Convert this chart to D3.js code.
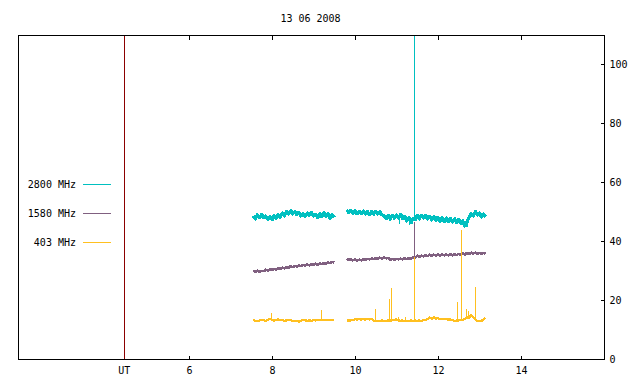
<!DOCTYPE html>
<html>
<head>
<meta charset="utf-8">
<script src="https://cdn.jsdelivr.net/npm/d3@7"></script>
<style>
  html, body { margin: 0; padding: 0; background: #ffffff; }
  svg { display: block; }
  text { font-family: "DejaVu Sans Mono", monospace; font-size: 10px; fill: #000; }
</style>
</head>
<body>
<svg id="chart" width="640" height="384"></svg>
<script>
// ---------------- DATA ----------------
const title = "13 06 2008";
const seriesNames = ["2800 MHz", "1580 MHz", "403 MHz"];
const xTickValues = [6, 8, 10, 12, 14];
const utMark = 4.43;               // UT marker (hours)
const yTickValues = [0, 20, 40, 60, 80, 100];

// sampling cadence (hours) and segment start times
const sampleStep = 0.05;
const startA = 7.55;   // first observing segment
const startB = 9.80;   // second observing segment

// 2800 MHz
const cyanA = [48.6,47.6,48.9,48.1,49.0,48.0,48.5,47.4,48.3,47.5,
               48.6,47.9,48.9,48.2,49.5,48.6,50.1,49.2,50.3,49.3,
               50.0,49.0,49.8,48.6,49.4,48.4,49.5,48.8,49.7,48.6,
               49.1,48.0,49.3,48.4,49.6,48.5,49.2,47.7,49.0,48.0];
const cyanB = [50.6,49.7,50.4,49.5,50.2,49.3,50.1,49.4,50.2,49.3,
               50.0,49.1,50.0,49.2,50.1,49.3,49.9,49.0,
               48.6,47.6,48.7,47.5,48.8,47.8,48.9,47.9,49.1,47.7,
               48.4,46.9,47.9,46.4,47.8,47.3,
               48.7,47.6,48.8,47.9,48.7,47.6,48.4,47.2,48.3,47.0,
               48.1,46.8,47.9,46.7,47.8,46.6,
               47.7,46.5,47.6,46.4,47.4,46.1,46.8,45.2,46.6,48.1,
               49.3,48.6,50.0,48.9,49.5,48.3,49.2,48.4];
// 1580 MHz
const purpleA = [30.1,29.6,30.0,29.5,29.9,29.8,30.3,30.0,30.5,30.2,
                 30.6,30.4,30.9,30.6,31.0,30.8,31.2,31.0,31.5,31.2,
                 31.6,31.4,31.7,31.5,32.0,31.7,32.1,31.8,32.2,32.0,
                 32.4,32.0,32.5,32.2,32.6,32.4,32.8,32.5,33.0,32.7];
const purpleB = [34.0,33.6,33.9,33.5,33.8,33.4,33.7,33.5,33.9,33.6,
                 34.0,33.8,34.1,33.9,34.3,34.0,34.4,34.1,
                 34.4,34.2,34.3,33.7,34.0,33.6,34.0,33.8,34.1,33.8,
                 34.2,33.9,34.3,34.0,34.5,34.4,
                 35.1,34.7,35.1,34.8,35.2,34.9,35.4,35.0,35.4,35.1,
                 35.5,35.1,35.5,35.2,35.5,35.2,
                 35.6,35.2,35.6,35.3,35.7,35.4,35.8,35.5,36.0,35.7,
                 36.1,35.8,36.1,35.8,36.0,35.8,36.0,35.8];
// 403 MHz
const yellowA = [13.2,13.0,12.8,13.1,13.2,13.1,13.0,13.2,13.6,13.3,
                 13.0,13.2,13.5,13.1,13.2,13.0,13.1,13.2,13.1,12.9,
                 12.9,13.0,12.7,13.0,13.3,13.1,13.0,13.1,13.0,13.2,
                 13.1,13.2,13.1,13.2,13.2,13.1,13.2,13.1,13.2,13.2];
const yellowB = [13.1,13.1,13.1,13.2,13.5,13.4,13.5,13.4,13.5,13.4,
                 13.6,13.4,13.5,13.1,12.8,12.8,12.9,13.1,
                 12.8,12.9,13.1,13.1,13.1,13.2,13.5,13.1,13.0,13.1,
                 12.8,12.9,12.8,13.1,13.0,13.1,
                 12.9,13.1,12.8,13.2,13.3,13.6,14.1,13.6,14.2,13.7,
                 13.9,13.5,13.6,13.5,13.5,13.4,
                 13.4,13.3,12.9,13.1,13.1,13.2,13.3,13.6,14.2,13.8,
                 15.0,14.3,13.5,12.9,12.8,12.9,13.6,13.9];

// isolated spikes: [time, base, peak]
const cyanSpikes = [[11.42, 47.3, 150], [11.06, 48.0, 46.0], [11.30, 47.4, 45.6],
                    [11.37, 47.3, 45.8], [12.70, 46.4, 44.9], [8.02, 48.0, 47.0]];
const purpleSpikes = [[11.42, 34.4, 46.5]];
const yellowSpikes = [[7.98, 13.1, 15.6], [9.19, 13.2, 16.6], [10.49, 13.1, 17.1],
                      [10.83, 13.0, 20.5], [10.87, 13.0, 24.1], [11.04, 13.1, 14.3],
                      [11.21, 13.0, 14.3], [11.42, 13.1, 34.5], [12.47, 13.0, 19.4],
                      [12.56, 13.1, 43.8], [12.68, 13.5, 17.1], [12.73, 13.8, 16.3],
                      [12.80, 14.2, 15.4], [12.90, 13.5, 24.5]];

const colors = ["#00c0c0", "#806080", "#ffc020"];
const utColor = "#8b0000";

// ---------------- LAYOUT ----------------
const svg = d3.select("#chart");
const L = 18, R = 604, T = 35, B = 359;
const bandWidths = [3.4, 2.6, 2.2];

const x = d3.scaleLinear().domain([1.88, 16]).range([L, R]);
const y = d3.scaleLinear().domain([0, 110]).range([B, T]);

svg.append("defs").append("clipPath").attr("id", "plotclip")
  .append("rect").attr("x", L).attr("y", T).attr("width", R - L).attr("height", B - T);

const toPoints = (start, values) => values.map((v, i) => [start + i * sampleStep, v]);

const series = [
  { segs: [toPoints(startA, cyanA), toPoints(startB, cyanB)], spikes: cyanSpikes },
  { segs: [toPoints(startA, purpleA), toPoints(startB, purpleB)], spikes: purpleSpikes },
  { segs: [toPoints(startA, yellowA), toPoints(startB, yellowB)], spikes: yellowSpikes }
];

const line = d3.line().x(d => x(d[0])).y(d => y(d[1]));

// UT marker line
svg.append("line")
  .attr("x1", Math.round(x(utMark)) + 0.5).attr("x2", Math.round(x(utMark)) + 0.5)
  .attr("y1", T).attr("y2", B)
  .attr("stroke", utColor).attr("stroke-width", 1).attr("shape-rendering", "crispEdges");

// data
const gData = svg.append("g").attr("clip-path", "url(#plotclip)");
series.forEach((s, i) => {
  const g = gData.append("g");
  s.segs.forEach(seg => {
    g.append("path").datum(seg)
      .attr("d", line)
      .attr("fill", "none")
      .attr("stroke", colors[i])
      .attr("stroke-width", bandWidths[i])
      .attr("stroke-linejoin", "round")
      .attr("shape-rendering", "crispEdges");
  });
  g.selectAll("line.spike").data(s.spikes).join("line")
    .attr("class", "spike")
    .attr("x1", d => Math.round(x(d[0])) + 0.5).attr("x2", d => Math.round(x(d[0])) + 0.5)
    .attr("y1", d => y(d[1])).attr("y2", d => y(d[2]))
    .attr("stroke", colors[i]).attr("stroke-width", 1)
    .attr("shape-rendering", "crispEdges");
});

// axes
const xAxis = d3.axisBottom(x)
  .tickValues([utMark].concat(xTickValues))
  .tickFormat(d => d === utMark ? "UT" : String(d))
  .tickSizeInner(-4).tickSizeOuter(0);
const gx = svg.append("g").attr("transform", `translate(0,${B + 0.5})`).call(xAxis);
gx.select(".domain").remove();
gx.selectAll("line").attr("stroke", "#000").attr("shape-rendering", "crispEdges");
gx.selectAll(".tick").filter(d => d === utMark).select("line").remove();
gx.selectAll("text").attr("y", 14.5).attr("dy", null)
  .style("font-family", '"DejaVu Sans Mono", monospace').style("font-size", "10px").attr("fill", "#000");

const xTop = d3.axisTop(x).tickValues(xTickValues).tickFormat("").tickSizeInner(-4).tickSizeOuter(0);
const gxt = svg.append("g").attr("transform", `translate(0,${T + 0.5})`).call(xTop);
gxt.select(".domain").remove();
gxt.selectAll("line").attr("stroke", "#000").attr("shape-rendering", "crispEdges");

const yAxis = d3.axisRight(y).tickValues(yTickValues).tickSizeInner(-4).tickSizeOuter(0).tickPadding(5);
const gy = svg.append("g").attr("transform", `translate(${R + 0.5},0)`).call(yAxis);
gy.select(".domain").remove();
gy.selectAll("line").attr("stroke", "#000").attr("shape-rendering", "crispEdges");
gy.selectAll("text")
  .style("font-family", '"DejaVu Sans Mono", monospace').style("font-size", "10px").attr("fill", "#000");

// frame
svg.append("rect")
  .attr("x", L + 0.5).attr("y", T + 0.5).attr("width", R - L).attr("height", B - T)
  .attr("fill", "none").attr("stroke", "#000").attr("stroke-width", 1)
  .attr("shape-rendering", "crispEdges");

// title
svg.append("text").attr("x", 310.5).attr("y", 22).attr("text-anchor", "middle").text(title);

// legend
const legendY = [184, 213, 242];
seriesNames.forEach((name, i) => {
  svg.append("text").attr("x", 76).attr("y", legendY[i] + 3.5)
    .attr("text-anchor", "end").text(name);
  svg.append("line")
    .attr("x1", 83).attr("x2", 111)
    .attr("y1", legendY[i] + 0.5).attr("y2", legendY[i] + 0.5)
    .attr("stroke", colors[i]).attr("stroke-width", 1)
    .attr("shape-rendering", "crispEdges");
});
</script>
</body>
</html>
